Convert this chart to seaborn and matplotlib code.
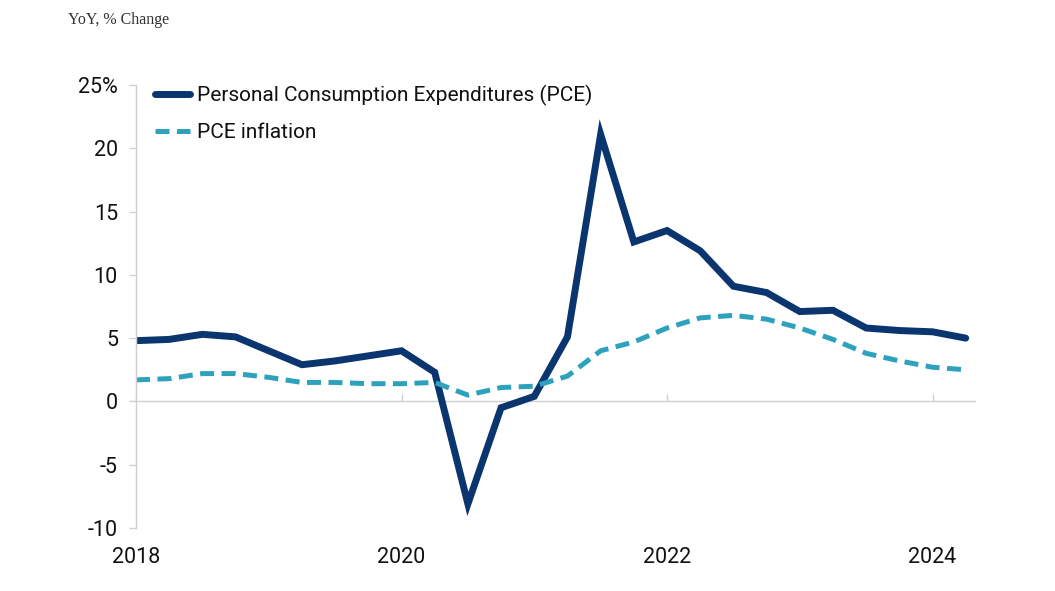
import pandas as pd
import matplotlib.pyplot as plt
import seaborn as sns

# quarterly, 2018 Q1 .. 2024 Q2
quarters = [2018 + i * 0.25 for i in range(26)]
pce = [4.8, 4.9, 5.3, 5.1, 4.0, 2.9, 3.2, 3.6, 4.0, 2.3, -8.1, -0.5, 0.4,
       5.1, 21.1, 12.6, 13.5, 11.9, 9.1, 8.6, 7.1, 7.2, 5.8, 5.6, 5.5, 5.0]
pce_inflation = [1.7, 1.8, 2.2, 2.2, 1.9, 1.5, 1.5, 1.4, 1.4, 1.5, 0.5, 1.1,
                 1.2, 2.0, 4.0, 4.7, 5.8, 6.6, 6.8, 6.5, 5.8, 4.9, 3.8, 3.2,
                 2.7, 2.5]
year_ticks = [2018, 2020, 2022, 2024]
y_ticks = [-10, -5, 0, 5, 10, 15, 20, 25]
y_labels = ['-10', '-5', '0', '5', '10', '15', '20', '25%']

df = pd.DataFrame({'quarter': quarters, 'pce': pce, 'infl': pce_inflation})

sns.set_style('white')
plt.rcParams['font.family'] = ['Roboto', 'DejaVu Sans']

NAVY = '#0b356f'
TEAL = '#2ea2bd'
GRID = '#d0d0d0'

fig = plt.figure(figsize=(10.55, 5.91), dpi=100)
ax = fig.add_axes([0.1289, 0.1066, 0.7953, 0.7496])

sns.lineplot(data=df, x='quarter', y='pce', ax=ax, color=NAVY, linewidth=5,
             label='Personal Consumption Expenditures (PCE)')
sns.lineplot(data=df, x='quarter', y='infl', ax=ax, color=TEAL, linewidth=3.6,
             label='PCE inflation')
ax.lines[1].set_linestyle((0, (2.8, 1.5)))
ax.lines[1].set_dash_capstyle('butt')
ax.lines[0].set_solid_joinstyle('miter')

ax.set_xlim(2018, 2024.32)
ax.set_ylim(-10, 25)
ax.set_yticks(y_ticks)
ax.set_yticklabels(y_labels)
ax.set_xticks(year_ticks)
ax.set_xticklabels([str(y) for y in year_ticks])
ax.set_xlabel('')
ax.set_ylabel('')

for s in ['top', 'right']:
    ax.spines[s].set_visible(False)
ax.spines['left'].set_color(GRID)
ax.spines['left'].set_linewidth(1)
ax.spines['bottom'].set_position(('data', 0))
ax.spines['bottom'].set_color(GRID)
ax.spines['bottom'].set_linewidth(1)
ax.spines['bottom'].set_zorder(0)

ax.tick_params(axis='y', left=True, length=5, width=1, color=GRID,
               labelsize=15.5, pad=8, labelcolor='#111111')
ax.tick_params(axis='x', bottom=True, direction='in', length=5, width=1,
               color=GRID, labelsize=15.5, pad=105, labelcolor='#111111')

leg = ax.legend(loc='upper left', bbox_to_anchor=(0.003, 1.038), frameon=False,
                fontsize=15, handlelength=1.65, handletextpad=0.35,
                labelspacing=0.82, borderaxespad=0.4)
for t in leg.get_texts():
    t.set_color('#111111')

fig.text(0.064, 0.966, 'YoY, % Change', fontsize=11.5, color='#333333',
         family=['Liberation Serif', 'DejaVu Serif'], va='center')

fig.savefig('out.png', dpi=100)
